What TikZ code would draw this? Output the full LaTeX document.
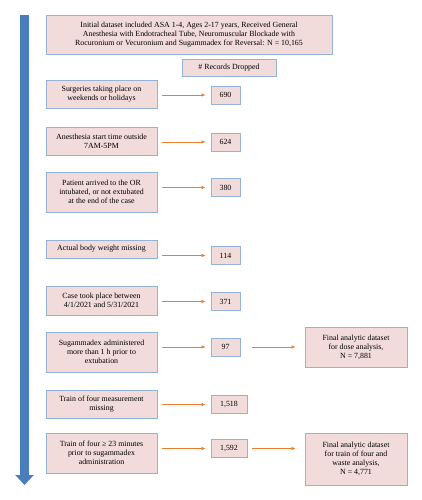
\documentclass[tikz,border=0pt]{standalone}
\usepackage{fontspec}
\setmainfont{Liberation Serif}
\usetikzlibrary{arrows.meta}
\definecolor{boxfill}{HTML}{F2DCDB}
\definecolor{boxline}{HTML}{95B3D7}
\definecolor{droporange}{HTML}{ED7D31}
\definecolor{flowblue}{HTML}{4A7EBB}
\tikzset{
	stage/.style={draw=boxline, fill=boxfill, line width=1pt, align=center, inner sep=0pt, font=\fontsize{11.2}{12.8}\selectfont},
	reason/.style={stage, minimum width=55.5mm},
	count/.style={stage, minimum width=14.5mm, minimum height=9mm},
	final/.style={stage, minimum width=51mm},
	drop/.style={draw=droporange, line width=0.7pt, -{Latex[length=2mm,width=1.6mm]}, shorten <=2.5mm, shorten >=2.5mm}
}
\begin{document}
\begin{tikzpicture}[x=0.5mm, y=-0.5mm]
		\useasboundingbox (0,0) rectangle (422,500);
		\coordinate (top) at (24.5,15);
		\coordinate (bottom) at (24.5,485);
		\draw [flowblue, line width=4.5mm, -{Triangle[width=9mm,length=5mm]}](top) -- (bottom);

		\node (all)[stage, minimum width=143mm, minimum height=19.5mm] at (189,34.5) {Initial dataset included ASA 1-4, Ages 2-17 years, Received General\\Anesthesia with Endotracheal Tube, Neuromuscular Blockade with\\Rocuronium or Vecuronium and Sugammadex for Reversal: N = 10,165};
		\node (hdr)[stage, minimum width=47mm, minimum height=8.5mm] at (229,67.5) {\# Records Dropped};

		\node (s1)[reason, minimum height=14mm] at (101.5,94)   {Surgeries taking place on\\weekends or holidays};
		\node (s2)[reason, minimum height=14mm] at (101.5,141)  {Anesthesia start time outside\\7AM-5PM};
		\node (s3)[reason, minimum height=20mm] at (101.5,192)  {Patient arrived to the OR\\intubated, or not extubated\\at the end of the case};
		\node (s4)[reason, minimum height=9mm] at (101.5,249)   {Actual body weight missing};
		\node (s5)[reason, minimum height=14.5mm] at (101.5,300.5) {Case took place between\\4/1/2021 and 5/31/2021};
		\node (s6)[reason, minimum height=20mm] at (101.5,352)  {Sugammadex administered\\more than 1 h prior to\\extubation};
		\node (s7)[reason, minimum height=14mm] at (101.5,404)  {Train of four measurement\\missing};
		\node (s8)[reason, minimum height=20mm] at (101.5,453)  {Train of four ≥ 23 minutes\\prior to sugammadex\\administration};

		\node (c1)[count] at (225.5,95)    {690};
		\node (c2)[count] at (225.5,142)   {624};
		\node (c3)[count] at (225.5,187.5) {380};
		\node (c4)[count] at (225.5,255.5) {114};
		\node (c5)[count] at (225.5,301.5) {371};
		\node (c6)[count] at (225.5,347)   {97};
		\node (c7)[count, minimum width=18mm] at (229,404.5) {1,518};
		\node (c8)[count, minimum width=18mm] at (229,448.5) {1,592};

		\node (f1)[final, minimum height=20mm] at (356,347) {Final analytic dataset\\for dose analysis,\\N = 7,881};
		\node (f2)[final, minimum height=26mm] at (356,459) {Final analytic dataset\\for train of four and\\waste analysis,\\N = 4,771};

		\draw [drop](s1.east |- c1) -- (c1);
		\draw [drop](s2.east |- c2) -- (c2);
		\draw [drop](s3.east |- c3) -- (c3);
		\draw [drop](s4.east |- c4) -- (c4);
		\draw [drop](s5.east |- c5) -- (c5);
		\draw [drop](s6.east |- c6) -- (c6);
		\draw [drop](s7.east |- c7) -- (c7);
		\draw [drop](s8.east |- c8) -- (c8);

		\draw [drop, shorten <=6mm, shorten >=4.5mm](c6) -- (f1.west |- c6);
		\draw [drop, shorten >=4.5mm](c8) -- (f2.west |- c8);
	\end{tikzpicture}
\end{document}
